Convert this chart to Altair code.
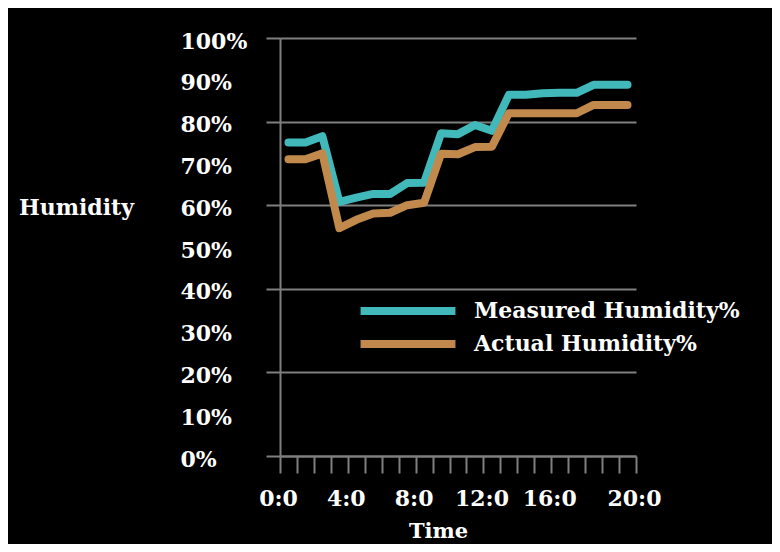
import altair as alt
import pandas as pd

# Data
hours = list(range(21))
measured = [75, 75, 76.5, 60.8, 61.8, 62.7, 62.7, 65.3, 65.4, 77.2, 77.0,
            79.2, 77.8, 86.4, 86.4, 86.8, 86.9, 86.9, 88.8, 88.8, 88.8]
actual = [71, 71, 72.4, 54.5, 56.5, 58.0, 58.2, 60.0, 60.6, 72.3, 72.2,
          73.9, 74.0, 82.0, 82.0, 82.0, 82.0, 82.0, 84.0, 84.0, 84.0]
series_names = ["Measured Humidity%", "Actual Humidity%"]
series_colors = ["#41b9bb", "#c18a4c"]
y_tick_values = list(range(0, 101, 10))
x_tick_values = [h - 0.5 for h in range(22)]
x_label_positions = [-0.5, 3.5, 7.5, 11.5, 15.5, 20.5]
x_label_texts = ["0:0", "4:0", "8:0", "12:0", "16:0", "20:0"]

rows = []
for h, m, a in zip(hours, measured, actual):
    rows.append({"hour": h, "value": m, "series": series_names[0]})
    rows.append({"hour": h, "value": a, "series": series_names[1]})
df = pd.DataFrame(rows)

label_expr = " : ".join(
    f"datum.value == {p} ? '{t}'" for p, t in zip(x_label_positions, x_label_texts)
) + " : ''"

FONT = "DejaVu Serif"
GRAY = "#7f7f7f"

x_axis = alt.Axis(
    values=x_tick_values,
    labelExpr=label_expr,
    grid=False,
    tickSize=17,
    tickColor=GRAY,
    tickWidth=2,
    domainColor=GRAY,
    domainWidth=2,
    labelPadding=15,
    labelOffset=-2,
    labelFlush=False,
    labelOverlap=False,
    labelBound=False,
    labelColor="white",
    labelFont=FONT,
    labelFontSize=22,
    labelFontWeight="bold",
    title="Time",
    titleColor="white",
    titleFont=FONT,
    titleFontSize=21,
    titleFontWeight="bold",
    titleX=158,
    titleY=81,
    titleAlign="center",
    titleBaseline="alphabetic",
)

y_axis = alt.Axis(
    values=y_tick_values,
    labelExpr="datum.value + '%'",
    grid=True,
    gridColor=GRAY,
    gridWidth=2,
    gridOpacity={"condition": {"test": "datum.value % 20 !== 0", "value": 0}, "value": 1},
    tickOpacity={"condition": {"test": "datum.value % 20 !== 0", "value": 0}, "value": 1},
    tickSize=14,
    tickColor=GRAY,
    tickWidth=2,
    domainColor=GRAY,
    domainWidth=2,
    labelAlign="left",
    labelPadding=86,
    labelOffset=3,
    labelColor="white",
    labelFont=FONT,
    labelFontSize=22,
    labelFontWeight="bold",
    labelOverlap=False,
    labelBound=False,
    labelFlush=False,
    title="Humidity",
    titleAngle=0,
    titleColor="white",
    titleFont=FONT,
    titleFontSize=22,
    titleFontWeight="bold",
    titleX=-204,
    titleY=176,
    titleAlign="center",
    titleBaseline="alphabetic",
)

legend = alt.Legend(
    orient="none",
    legendX=117,
    legendY=262,
    title=None,
    padding=0,
    symbolType="M-10,0H10",
    symbolSize=90,
    symbolStrokeWidth=8,
    labelOffset=55,
    rowPadding=1,
    labelColor="white",
    labelFont=FONT,
    labelFontSize=22,
    labelFontWeight="bold",
    labelLimit=400,
)

chart = (
    alt.Chart(df)
    .mark_line(strokeWidth=8, strokeCap="round", strokeJoin="round")
    .encode(
        x=alt.X("hour:Q", scale=alt.Scale(domain=[-0.5, 20.5], nice=False, zero=False), axis=x_axis),
        y=alt.Y("value:Q", scale=alt.Scale(domain=[0, 100], nice=False), axis=y_axis),
        color=alt.Color(
            "series:N",
            scale=alt.Scale(domain=series_names, range=series_colors),
            legend=legend,
        ),
        order=alt.Order("hour:Q"),
    )
    .properties(
        width=356,
        height=418,
        background="black",
        autosize=alt.AutoSizeParams(type="none"),
        padding={"left": 272, "top": 30, "right": 136, "bottom": 88},
    )
    .configure_view(stroke=None)
)

chart.save("out.html", embed_options={"renderer": "svg", "actions": False})
